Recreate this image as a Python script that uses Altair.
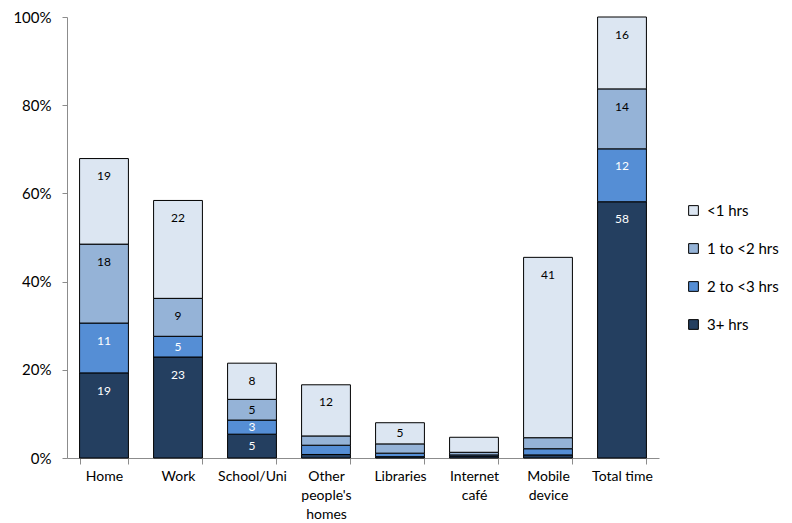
import altair as alt
import pandas as pd

categories = ["Home", "Work", "School/Uni", "Other\npeople's\nhomes", "Libraries",
              "Internet\ncafé", "Mobile\ndevice", "Total time"]
series = ["<1 hrs", "1 to <2 hrs", "2 to <3 hrs", "3+ hrs"]
colors = ["#DCE6F2", "#95B3D7", "#558ED5", "#243F60"]
label_colors = ["black", "black", "white", "white"]

# values in percent
lt1 = [19.4, 22.2, 8.2, 11.6, 4.8, 3.4, 40.9, 16.3]
h1to2 = [17.9, 8.6, 4.7, 2.1, 2.1, 0.6, 2.5, 13.6]
h2to3 = [11.3, 4.7, 3.2, 2.1, 0.8, 0.3, 1.4, 12.0]
h3p = [19.3, 22.9, 5.4, 0.8, 0.3, 0.4, 0.7, 58.1]

# data labels as shown on the chart (None = no label)
lab_lt1 = [19, 22, 8, 12, 5, None, 41, 16]
lab_1to2 = [18, 9, 5, None, None, None, None, 14]
lab_2to3 = [11, 5, 3, None, None, None, None, 12]
lab_3p = [19, 23, 5, None, None, None, None, 58]

values = [lt1, h1to2, h2to3, h3p]
labels = [lab_lt1, lab_1to2, lab_2to3, lab_3p]

rows = []
for ci, cat in enumerate(categories):
    start = 0.0
    # stack from bottom: 3+ first
    for si in [3, 2, 1, 0]:
        v = values[si][ci]
        end = start + v
        lab = labels[si][ci]
        rows.append({
            "cat": cat,
            "series": series[si],
            "start": start,
            "end": end,
            "label": "" if lab is None else str(lab),
            "label_y": end - min(v / 2.0, 4.0),
            "tc": label_colors[si],
        })
        start = end

df = pd.DataFrame(rows)
FONT = "Lato"

x_enc = alt.X("cat:N", sort=categories, title=None,
              scale=alt.Scale(paddingInner=0.34, paddingOuter=0.17),
              axis=alt.Axis(labelAngle=0, tickBand="extent", tickSize=6,
                            labelPadding=5, labelFontSize=14, labelLineHeight=19,
                            labelExpr="split(datum.label, '\\n')",
                            domainColor="#8c8c8c", tickColor="#8c8c8c",
                            labelColor="black", labelFont=FONT, grid=False))

bars = alt.Chart(df).mark_bar(stroke="black", strokeWidth=1).encode(
    x=x_enc,
    y=alt.Y("start:Q", title=None,
            scale=alt.Scale(domain=[0, 100], nice=False),
            axis=alt.Axis(values=[0, 20, 40, 60, 80, 100],
                          labelExpr="datum.value + '%'",
                          tickSize=5, labelPadding=11, labelFontSize=15,
                          labelFont=FONT, labelColor="black",
                          domainColor="#8c8c8c", tickColor="#8c8c8c", grid=False)),
    y2="end:Q",
    color=alt.Color("series:N",
                    scale=alt.Scale(domain=series, range=colors),
                    legend=alt.Legend(title=None, orient="none", legendX=619, legendY=186,
                                      symbolType="square", symbolSize=95,
                                      symbolStrokeColor="black", symbolStrokeWidth=1,
                                      labelFontSize=15, labelFont=FONT, labelColor="black",
                                      rowPadding=22, padding=0, labelOffset=6)),
)

text = alt.Chart(df).mark_text(fontSize=12, baseline="middle", font=FONT).encode(
    x=alt.X("cat:N", sort=categories),
    y=alt.Y("label_y:Q"),
    text="label:N",
    color=alt.Color("tc:N", scale=None),
)

chart = alt.layer(bars, text).properties(
    width=592, height=441,
    padding={"left": 59, "top": 9, "right": 125, "bottom": 65},
    autosize=alt.AutoSizeParams(type="none"),
).configure_view(stroke=None)

chart.save("out.html", embed_options={"renderer": "svg", "actions": False})
